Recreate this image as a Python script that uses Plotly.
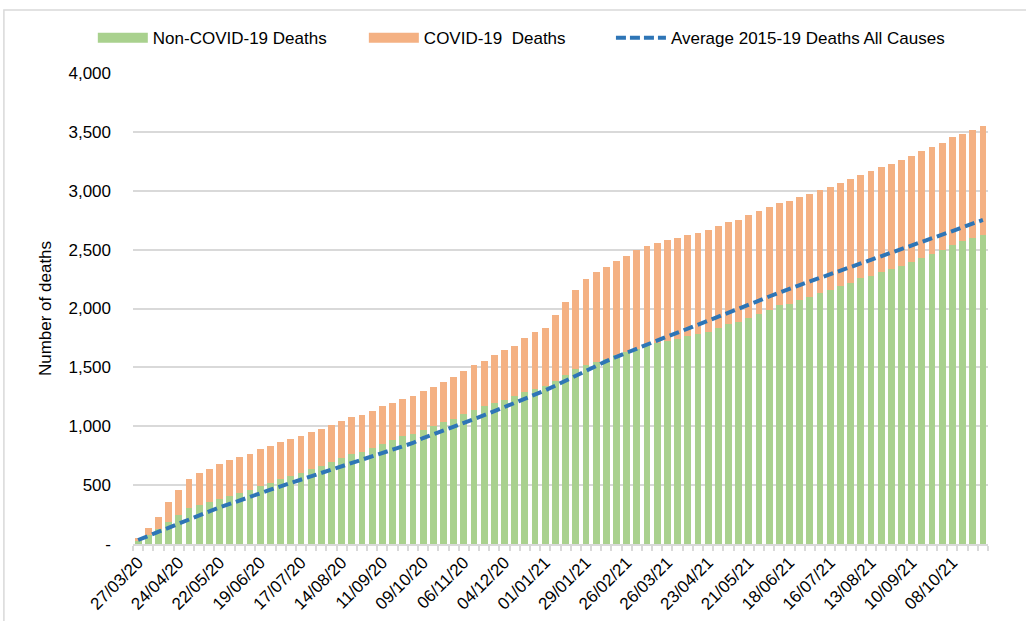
import pandas as pd
import plotly.graph_objects as go

# weekly dates, 27/03/20 -> 29/10/21
weeks = pd.date_range("2020-03-27", "2021-10-29", freq="7D")
categorias = [d.strftime("%d/%m/%y") for d in weeks]

# cumulative deaths
non_covid = [25, 76, 126, 187, 245, 307, 330, 355, 383, 410,
             434, 458, 495, 521, 550, 578, 601, 640, 665, 698,
             732, 763, 782, 816, 853, 881, 915, 932, 972, 1003,
             1037, 1065, 1108, 1136, 1170, 1201, 1226, 1254, 1291, 1320,
             1339, 1381, 1432, 1489, 1517, 1545, 1574, 1602, 1630, 1659,
             1687, 1706, 1723, 1743, 1763, 1780, 1799, 1833, 1865, 1887,
             1921, 1955, 1989, 2026, 2040, 2074, 2099, 2133, 2155, 2187,
             2220, 2257, 2280, 2314, 2339, 2365, 2396, 2432, 2464, 2500,
             2543, 2571, 2599, 2627]

covid = [23, 61, 100, 168, 213, 246, 270, 286, 297, 302,
         308, 310, 312, 313, 314, 314, 314, 315, 315, 315,
         315, 315, 316, 316, 316, 317, 318, 322, 326, 332,
         338, 352, 361, 381, 383, 401, 418, 430, 457, 477,
         497, 568, 619, 664, 735, 763, 782, 805, 819, 838,
         842, 850, 856, 858, 860, 862, 864, 865, 866, 868,
         869, 870, 870, 871, 872, 873, 874, 875, 876, 877,
         878, 880, 884, 886, 890, 894, 899, 903, 906, 909,
         911, 913, 918, 920]

average_2015_19 = [34, 70, 106, 141, 176, 210, 244, 277, 310, 342,
                   373, 403, 432, 461, 490, 518, 546, 574, 602, 630,
                   658, 686, 714, 742, 771, 800, 829, 858, 900, 931,
                   962, 994, 1027, 1060, 1094, 1128, 1162, 1197, 1232, 1268,
                   1305, 1345, 1388, 1432, 1475, 1515, 1553, 1590, 1626, 1661,
                   1695, 1729, 1762, 1795, 1828, 1861, 1894, 1927, 1960, 1995,
                   2030, 2066, 2102, 2137, 2168, 2199, 2230, 2260, 2290, 2320,
                   2350, 2380, 2410, 2440, 2471, 2502, 2533, 2564, 2595, 2626,
                   2658, 2690, 2721, 2752]

y_ticks = [0, 500, 1000, 1500, 2000, 2500, 3000, 3500, 4000]
y_labels = ["-", "500", "1,000", "1,500", "2,000", "2,500", "3,000", "3,500", "4,000"]

verde = "#A9D18E"
naranja = "#F4B183"
azul = "#2E75B6"
gris = "#D9D9D9"

# only every 4th week gets a label
x_text = [c if i % 4 == 0 else "" for i, c in enumerate(categorias)]

fig = go.Figure()
fig.add_trace(go.Bar(x=categorias, y=non_covid, marker=dict(color=verde, line_width=0),
                     showlegend=False))
fig.add_trace(go.Bar(x=categorias, y=covid, marker=dict(color=naranja, line_width=0),
                     showlegend=False))
fig.add_trace(go.Scatter(x=categorias, y=average_2015_19, mode="lines",
                         line=dict(color=azul, width=4, dash="10px,5px"),
                         showlegend=False))

# legend entries (wide swatches like Excel), one legend box each so spacing can be set
entradas = [("Non-COVID-19 Deaths", verde, 10, "solid", "legend"),
            ("COVID-19  Deaths", naranja, 10, "solid", "legend2"),
            ("Average 2015-19 Deaths All Causes", azul, 4, "10px,4px", "legend3")]
for nombre, color, ancho, dash, leg in entradas:
    fig.add_trace(go.Scatter(x=[None], y=[None], mode="lines", name=nombre, legend=leg,
                             line=dict(color=color, width=ancho, dash=dash)))

leyenda = dict(orientation="h", xanchor="left", y=1.074, yanchor="middle",
               itemwidth=50, font=dict(size=17), bgcolor="rgba(0,0,0,0)")

fig.update_layout(
    barmode="stack",
    bargap=0.33,
    width=1026,
    height=621,
    margin=dict(l=133, r=38, t=73, b=77),
    paper_bgcolor="white",
    plot_bgcolor="white",
    font=dict(family="Liberation Sans, Arial, sans-serif", size=17, color="#000000"),
    legend=dict(leyenda, x=-0.047),
    legend2=dict(leyenda, x=0.270),
    legend3=dict(leyenda, x=0.559),
    xaxis=dict(type="category", range=[-0.5, len(categorias) - 0.5],
               tickmode="array", tickvals=categorias, ticktext=x_text,
               tickangle=-45, tickson="boundaries", ticks="outside", ticklen=5,
               tickcolor=gris, tickwidth=1.5, showline=True, linecolor=gris, linewidth=2,
               showgrid=False, automargin=False, tickfont=dict(size=17)),
    yaxis=dict(range=[0, 4000], tickmode="array", tickvals=y_ticks, ticktext=y_labels,
               gridcolor=gris, gridwidth=1.5, zeroline=False, showline=False,
               ticks="", ticklabelstandoff=21, automargin=False, tickfont=dict(size=17),
               title=dict(text="Number of deaths", standoff=12, font=dict(size=17))),
    shapes=[dict(type="rect", xref="paper", yref="paper",
                 x0=-0.151, x1=1.2, y0=-0.3, y1=1.134,
                 line=dict(color=gris, width=1.5), fillcolor="rgba(0,0,0,0)", layer="below")],
)

fig.write_html("out.html", config={"displayModeBar": False},
               post_script="document.body.style.margin='0px';")
